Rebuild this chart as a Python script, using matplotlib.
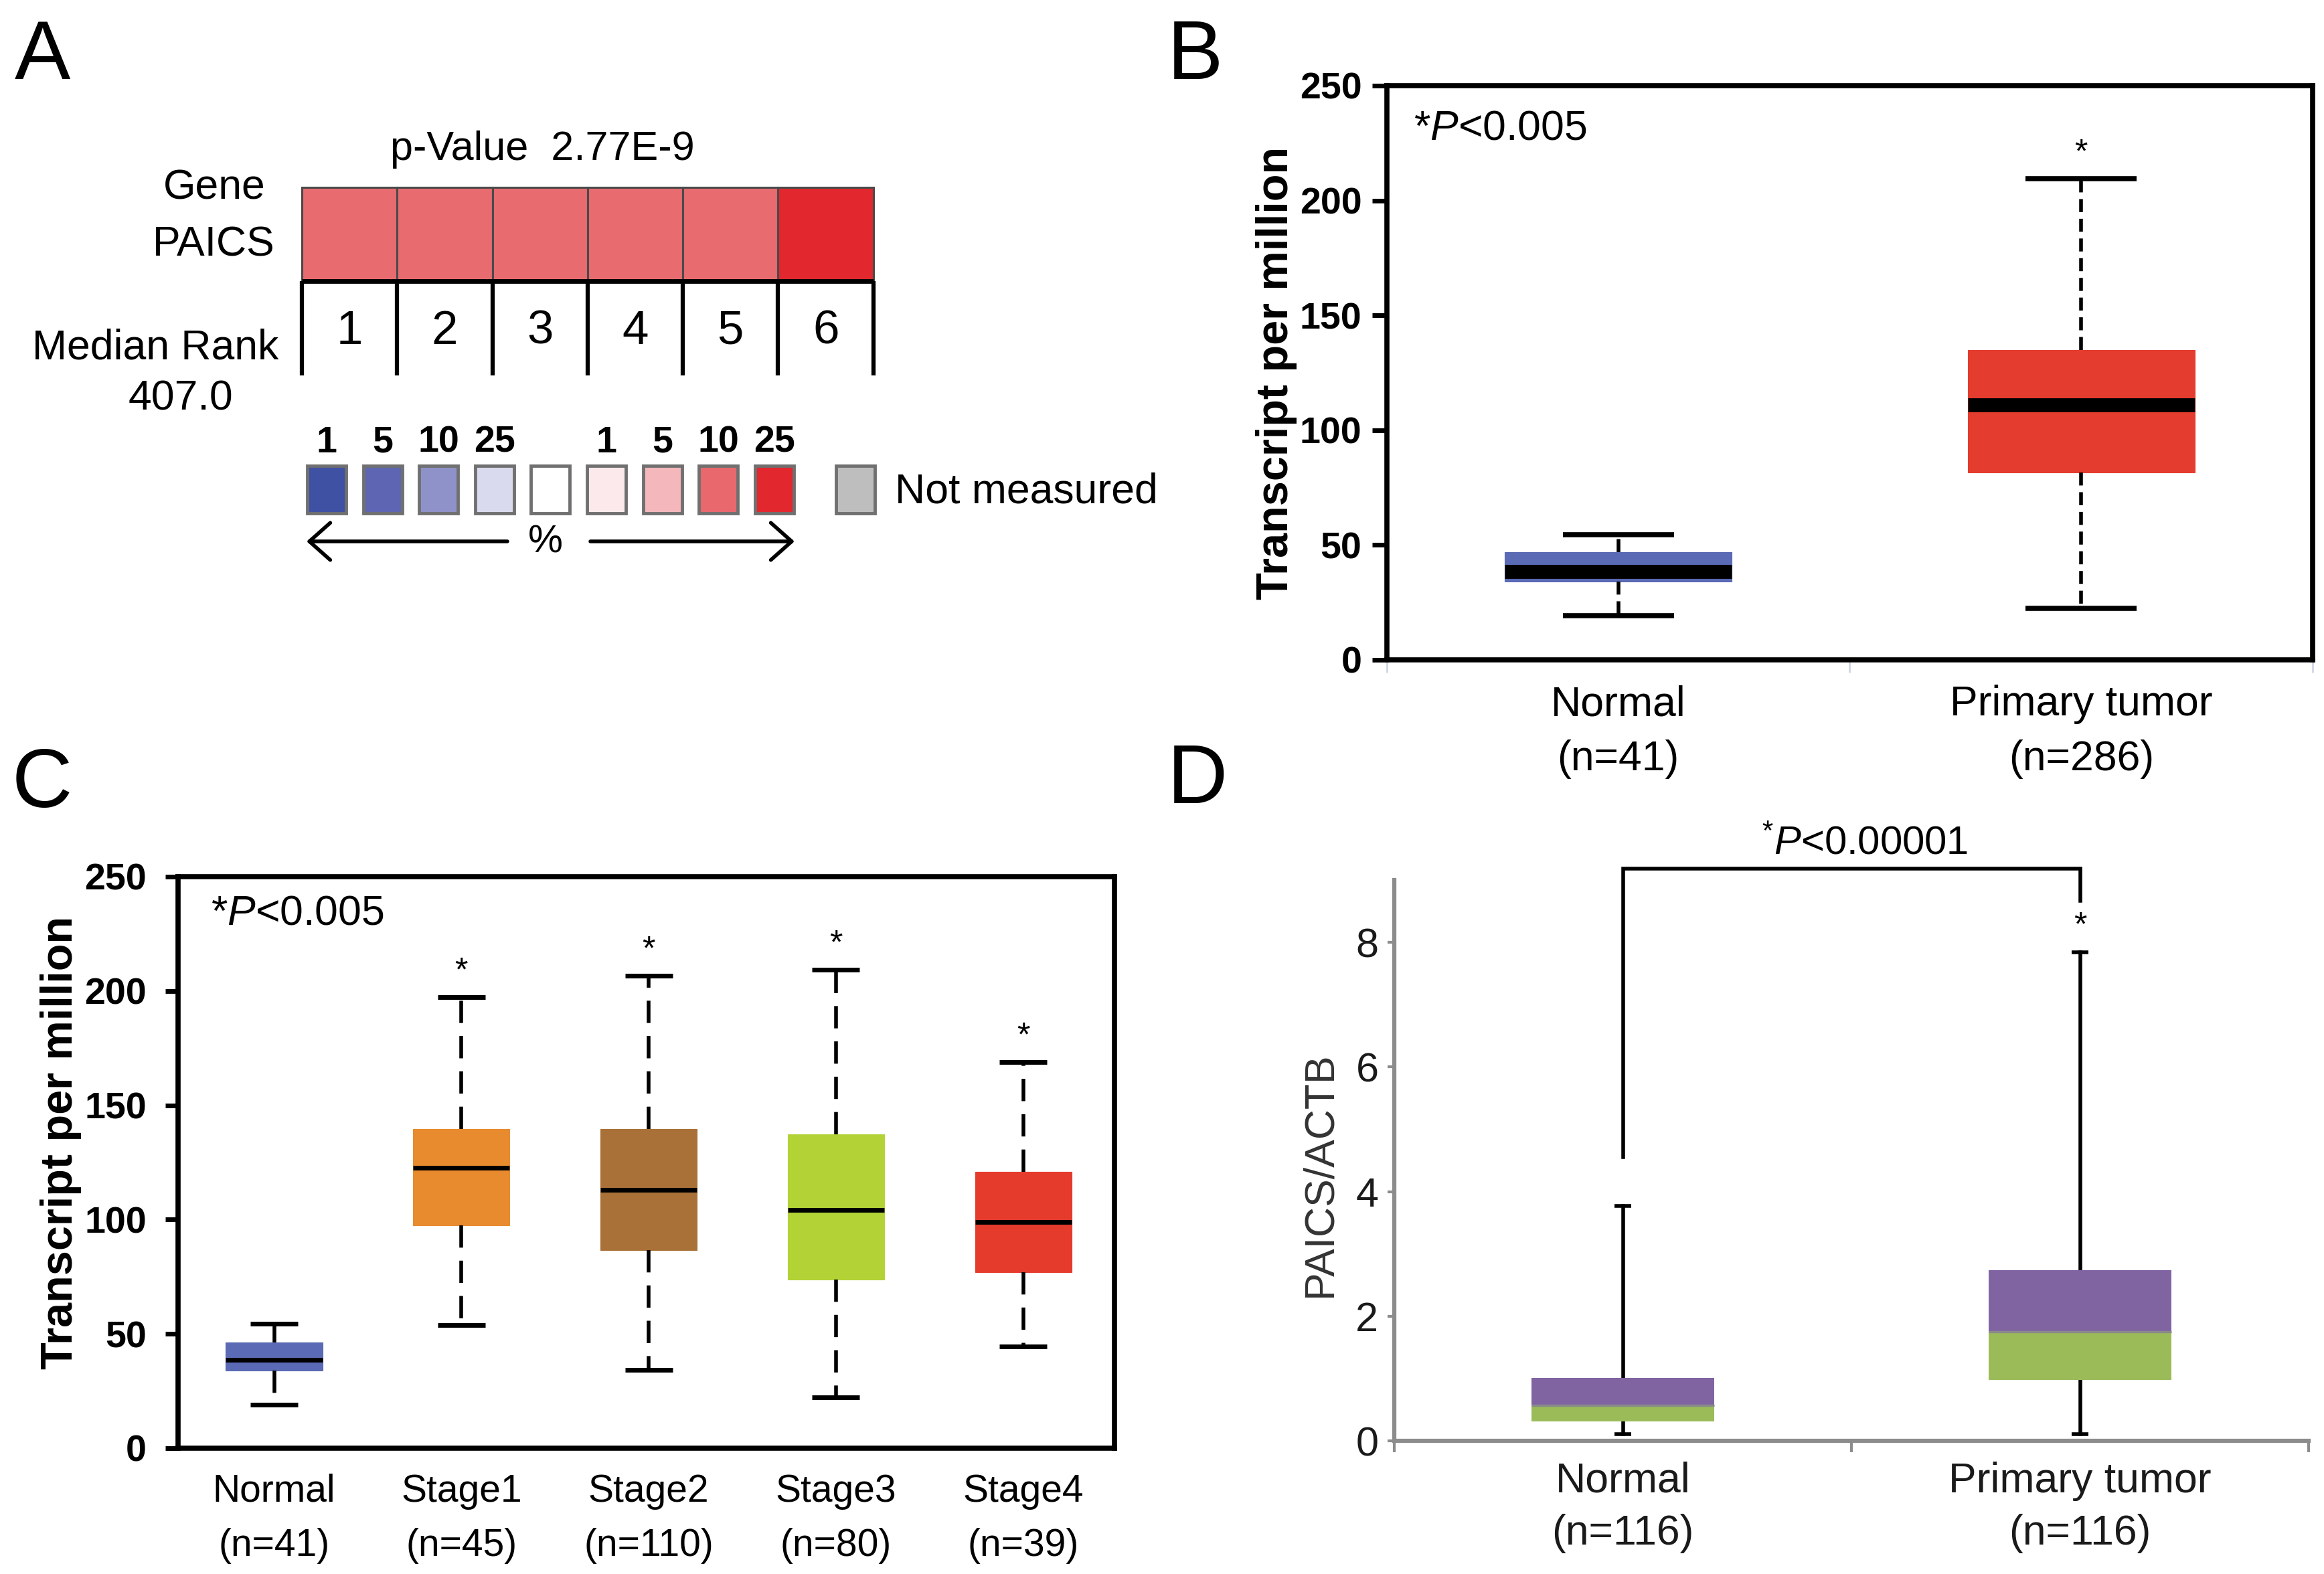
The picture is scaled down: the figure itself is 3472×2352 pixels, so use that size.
import matplotlib
matplotlib.use('Agg')
import matplotlib.pyplot as plt
from matplotlib.patches import Rectangle

plt.rcParams['font.family'] = ['Liberation Sans', 'DejaVu Sans']
plt.rcParams['mathtext.fontset'] = 'custom'
plt.rcParams['mathtext.rm'] = 'Liberation Sans'
plt.rcParams['mathtext.it'] = 'Liberation Sans:italic'
plt.rcParams['mathtext.bf'] = 'Liberation Sans:bold'

# ---------------- data ----------------
# Panel A (Oncomine-style summary)
a_ranks = [1, 2, 3, 4, 5, 6]
a_cell_colors = ['#E86B70', '#E86B70', '#E86B70', '#E86B70', '#E86B70', '#E2272E']
a_pvalue = '2.77E-9'
a_gene = 'PAICS'
a_median_rank = '407.0'
legend_labels = ['1', '5', '10', '25', '', '1', '5', '10', '25']
legend_colors = ['#3F51A3', '#5E66B3', '#8E92C9', '#D9DAEE', '#FFFFFF',
                 '#FCE9EB', '#F4B7BB', '#E8686D', '#E2272E']
notmeasured_color = '#BEBEBE'

# Panel B
b_groups = ['Normal\n(n=41)', 'Primary tumor\n(n=286)']
b_whislo = [19.2, 22.5]
b_q1 = [34.0, 81.5]
b_med = [38.5, 111.0]
b_q3 = [47.0, 135.0]
b_whishi = [54.5, 209.5]
b_colors = ['#5B6AB5', '#E43C2E']
b_signif = [False, True]

# Panel C
c_groups = ['Normal\n(n=41)', 'Stage1\n(n=45)', 'Stage2\n(n=110)', 'Stage3\n(n=80)', 'Stage4\n(n=39)']
c_whislo = [19.0, 53.8, 34.2, 22.2, 44.5]
c_q1 = [34.0, 97.6, 86.6, 73.7, 77.0]
c_med = [38.6, 122.7, 113.0, 104.2, 98.8]
c_q3 = [46.3, 139.5, 139.5, 137.2, 121.0]
c_whishi = [54.5, 197.3, 206.7, 209.3, 168.8]
c_colors = ['#5B6AB5', '#E88A2E', '#A97137', '#B2D236', '#E53B2D']
c_signif = [False, True, True, True, True]

# Panel D
d_groups = ['Normal\n(n=116)', 'Primary tumor\n(n=116)']
d_whislo = [0.11, 0.11]
d_q1 = [0.31, 0.98]
d_med = [0.57, 1.75]
d_q3 = [1.01, 2.74]
d_whishi = [3.77, 7.84]
d_upper_color = '#8064A2'
d_lower_color = '#9BBB59'
d_signif = [False, True]
d_bracket_left, d_bracket_top, d_bracket_right = 4.55, 9.18, 8.67

W, H = 3473, 2352
fig = plt.figure(figsize=(W / 100, H / 100), dpi=100)


def stats_of(lo, q1, med, q3, hi):
    return [dict(whislo=a, q1=b, med=c, q3=d, whishi=e, fliers=[])
            for a, b, c, d, e in zip(lo, q1, med, q3, hi)]


# ---------------- Panel A ----------------
axA = fig.add_axes([0, 1 - 1011 / H, 0.5, 1011 / H])
axA.set_xlim(0, W / 2)
axA.set_ylim(1011, 0)
axA.axis('off')
x0, cw = 451, 142.3
y_top, y_mid, y_bot = 280, 420, 561
for i, (r, c) in enumerate(zip(a_ranks, a_cell_colors)):
    axA.add_patch(Rectangle((x0 + i * cw, y_top), cw, y_mid - y_top,
                            facecolor=c, edgecolor='#4a4a4a', lw=2.2))
    axA.text(x0 + (i + 0.5) * cw, 496, str(r), ha='center', va='center', fontsize=51)
axA.plot([x0, x0 + len(a_ranks) * cw], [y_mid, y_mid], color='black', lw=5,
         solid_capstyle='butt')
for i in range(len(a_ranks) + 1):
    axA.plot([x0 + i * cw] * 2, [y_mid, y_bot], color='black', lw=4.5,
             solid_capstyle='butt')
axA.text(810, 224, 'p-Value  ' + a_pvalue, ha='center', va='center', fontsize=44)
axA.text(320, 281, 'Gene', ha='center', va='center', fontsize=45)
axA.text(319, 366, a_gene, ha='center', va='center', fontsize=45)
axA.text(232, 520, 'Median Rank', ha='center', va='center', fontsize=45)
axA.text(270, 596, a_median_rank, ha='center', va='center', fontsize=45)

lx0, ldx = 488, 83.6
for k, (lab, col) in enumerate(zip(legend_labels, legend_colors)):
    cx = lx0 + k * ldx
    axA.add_patch(Rectangle((cx - 29, 696), 58, 71, facecolor=col,
                            edgecolor='#707070', lw=3.5))
    if lab:
        axA.text(cx, 662, lab, ha='center', va='center', fontsize=40,
                 fontweight='bold')
axA.add_patch(Rectangle((1278 - 29, 696), 58, 71, facecolor=notmeasured_color,
                        edgecolor='#707070', lw=3.5))
axA.text(1337, 735, 'Not measured', ha='left', va='center', fontsize=45)
arrow_kw = dict(arrowstyle='->,head_length=0.45,head_width=0.4', lw=4,
                color='black', mutation_scale=50, shrinkA=0, shrinkB=0)
axA.annotate('', xy=(458, 809), xytext=(758, 809), arrowprops=arrow_kw)
axA.annotate('', xy=(1187, 809), xytext=(882, 809), arrowprops=arrow_kw)
axA.text(815, 811, '%', ha='center', va='center', fontsize=42)

# ---------------- Panel B ----------------
axB = fig.add_axes([2072 / W, 1 - 986 / H, 1383 / W, 858 / H])
bp = axB.bxp(stats_of(b_whislo, b_q1, b_med, b_q3, b_whishi),
             positions=range(len(b_groups)), widths=0.49, capwidths=0.24,
             patch_artist=True, showfliers=False,
             boxprops=dict(lw=0.8),
             whiskerprops=dict(color='black', lw=4, linestyle=(0, (3.5, 1.8))),
             capprops=dict(color='black', lw=5.5, solid_capstyle='butt'),
             medianprops=dict(color='black', lw=15, solid_capstyle='butt'))
for p, c in zip(bp['boxes'], b_colors):
    p.set_facecolor(c)
    p.set_edgecolor(c)
axB.set_xlim(-0.5, 1.5)
axB.set_ylim(0, 250)
axB.set_yticks(range(0, 251, 50))
axB.tick_params(axis='y', direction='out', length=16, width=5, pad=11, labelsize=40)
for lab in axB.get_yticklabels():
    lab.set_fontweight('bold')
axB.set_xticks(range(len(b_groups)))
axB.set_xticklabels(b_groups, linespacing=1.5)
axB.tick_params(axis='x', which='major', length=0, pad=27, labelsize=45)
axB.set_xticks([-0.5, 0.5, 1.5], minor=True)
axB.tick_params(axis='x', which='minor', length=14, width=2, color='#cfd6e6')
for s in axB.spines.values():
    s.set_linewidth(5.5)
axB.set_ylabel('Transcript per million', fontsize=48, fontweight='bold')
axB.yaxis.set_label_coords(-0.097, 0.50)
for i, s in enumerate(b_signif):
    if s:
        axB.text(i, b_whishi[i] + 11, '*', ha='center', va='center', fontsize=36)
axB.text(0.029, 0.925, r'*$\mathit{P}$<0.005', transform=axB.transAxes,
         ha='left', va='center', fontsize=45)

# ---------------- Panel C ----------------
axC = fig.add_axes([266 / W, 1 - 2164 / H, 1399 / W, 854 / H])
bp = axC.bxp(stats_of(c_whislo, c_q1, c_med, c_q3, c_whishi),
             positions=range(len(c_groups)), widths=0.515, capwidths=0.254,
             patch_artist=True, showfliers=False,
             boxprops=dict(lw=0.8),
             whiskerprops=dict(color='black', lw=4, linestyle=(0, (6, 3.5))),
             capprops=dict(color='black', lw=5, solid_capstyle='butt'),
             medianprops=dict(color='black', lw=5, solid_capstyle='butt'))
for p, c in zip(bp['boxes'], c_colors):
    p.set_facecolor(c)
    p.set_edgecolor(c)
axC.set_xlim(-0.513, 4.487)
axC.set_ylim(0, 250)
axC.set_yticks(range(0, 251, 50))
axC.tick_params(axis='y', direction='out', length=14, width=5, pad=20, labelsize=40)
for lab in axC.get_yticklabels():
    lab.set_fontweight('bold')
axC.set_xticks(range(len(c_groups)))
axC.set_xticklabels(c_groups, linespacing=1.65)
axC.tick_params(axis='x', length=0, pad=27, labelsize=41)
for s in axC.spines.values():
    s.set_linewidth(5.5)
axC.set_ylabel('Transcript per million', fontsize=48, fontweight='bold')
axC.yaxis.set_label_coords(-0.103, 0.535)
for i, s in enumerate(c_signif):
    if s:
        axC.text(i, c_whishi[i] + 11, '*', ha='center', va='center', fontsize=36)
axC.text(0.035, 0.936, r'*$\mathit{P}$<0.005', transform=axC.transAxes,
         ha='left', va='center', fontsize=45)

# ---------------- Panel D ----------------
axD = fig.add_axes([2083 / W, 1 - 2153 / H, 1366 / W, 838 / H])
pos = list(range(len(d_groups)))
axD.bxp(stats_of(d_whislo, d_q1, d_med, d_q3, d_whishi),
        positions=pos, widths=0.40, capwidths=0.037,
        patch_artist=True, showfliers=False,
        boxprops=dict(facecolor='none', edgecolor='none', lw=0),
        whiskerprops=dict(color='black', lw=4),
        capprops=dict(color='black', lw=4, solid_capstyle='butt'),
        medianprops=dict(lw=0, color='none'))
upper = [q3 - m for q3, m in zip(d_q3, d_med)]
lower = [m - q1 for m, q1 in zip(d_med, d_q1)]
axD.bar(pos, upper, bottom=d_med, width=0.40, color=d_upper_color, zorder=3)
axD.bar(pos, lower, bottom=d_q1, width=0.40, color=d_lower_color, zorder=3)
axD.hlines(d_med, [p - 0.2 for p in pos], [p + 0.2 for p in pos],
           colors='#8a8a8a', lw=2.5, zorder=4)
axD.set_xlim(-0.5, 1.5)
axD.set_ylim(0, 9)
axD.set_yticks([0, 2, 4, 6, 8])
axD.spines['top'].set_visible(False)
axD.spines['right'].set_visible(False)
for k in ('left', 'bottom'):
    axD.spines[k].set_color('#8c8c8c')
    axD.spines[k].set_linewidth(4.5)
axD.tick_params(axis='y', direction='out', length=7, width=3, color='#8c8c8c',
                pad=10, labelsize=44, labelcolor='#1a1a1a')
axD.set_xticks(pos)
axD.set_xticklabels(d_groups, linespacing=1.42)
axD.tick_params(axis='x', which='major', length=0, pad=22, labelsize=45,
                labelcolor='#1a1a1a')
axD.set_xticks([-0.5, 0.5, 1.5], minor=True)
axD.tick_params(axis='x', which='minor', length=12, width=3, color='#8c8c8c')
axD.set_ylabel('PAICS/ACTB', fontsize=45, color='#333333')
axD.yaxis.set_label_coords(-0.06, 0.475)
for i, s in enumerate(d_signif):
    if s:
        axD.text(i, d_whishi[i] + 0.42, '*', ha='center', va='center', fontsize=36)
axD.plot([0, 0, 1, 1], [d_bracket_left, d_bracket_top, d_bracket_top, d_bracket_right],
         color='black', lw=4, clip_on=False, solid_joinstyle='miter')
axD.text(0.304, 9.57, r'$^{*}\mathit{P}$<0.00001', fontsize=43, ha='left',
         va='center', clip_on=False)

# ---------------- panel letters ----------------
for lab, (px, py) in {'A': (22, 28), 'B': (1744, 28), 'C': (18, 1116), 'D': (1744, 1110)}.items():
    fig.text(px / W, 1 - py / H, lab, ha='left', va='top', fontsize=90)

fig.savefig('out.png', dpi=100)
